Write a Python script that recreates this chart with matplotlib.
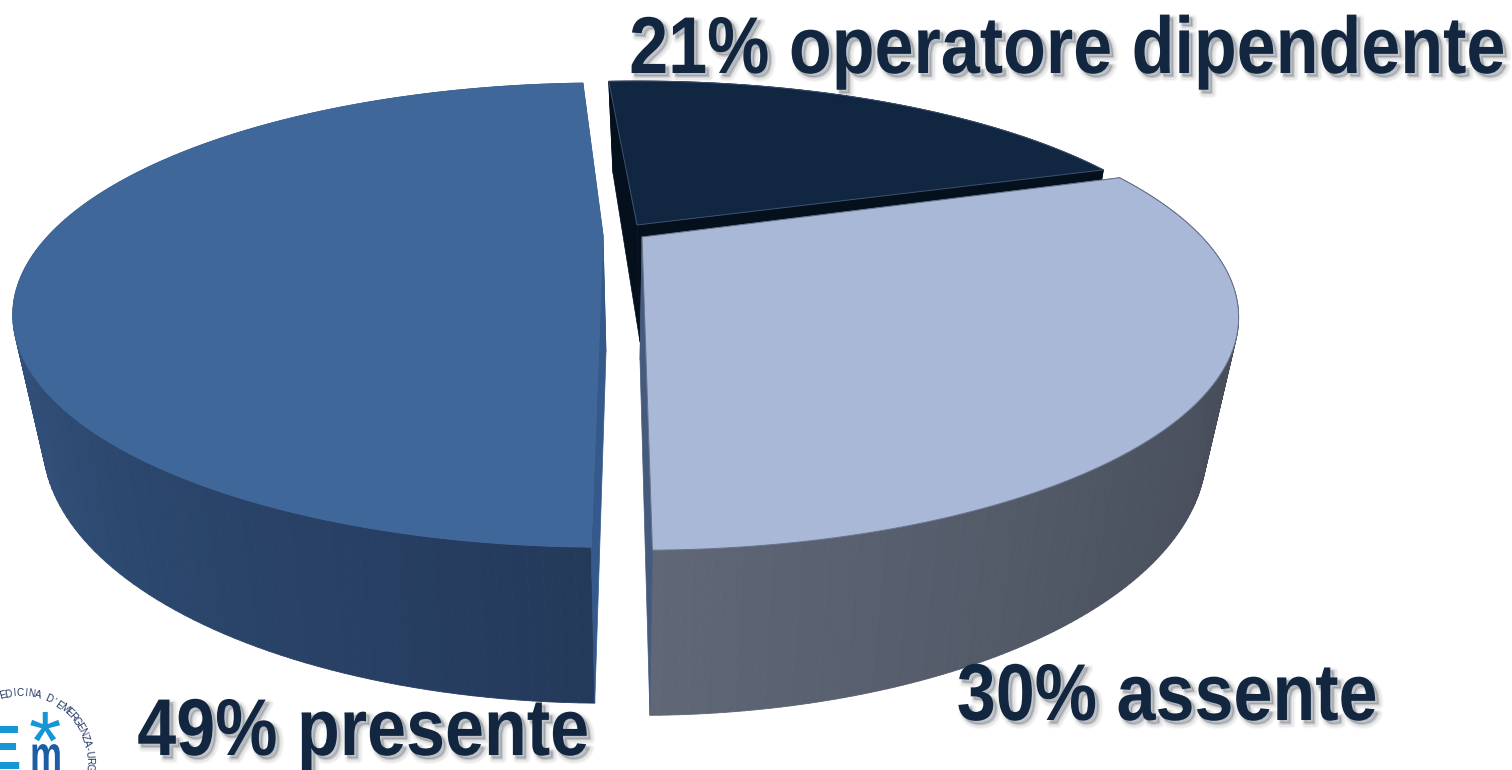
import numpy as np
import matplotlib
matplotlib.use("Agg")
import matplotlib.pyplot as plt
from matplotlib.patches import Polygon
from matplotlib.collections import PolyCollection
from matplotlib.transforms import Affine2D, Bbox
import matplotlib.patheffects as pe
from matplotlib.colors import to_rgb

# ---- data ----
categories = ["operatore dipendente", "assente", "presente"]
values = [21, 30, 49]
labels = ["21% operatore dipendente", "30% assente", "49% presente"]

# ---- styles / geometry ----
START = -4.0
NUDGE = [0.0, -0.3, 1.2]
K_T, K_L, B_L = 0.345, 0.343, -110.0
B_T = [-116.0, -123.4, -123.4]
RX_T = [545.0, 560.0, 554.0]
RX_L = [520.0, 532.0, 529.0]
# top apex x, top apex y, low apex x, low apex y
APEX = [(637, 225, 640, 342), (642, 237, 640, 360), (603, 235, 606, 352)]
TOP_C = ["#112641", "#a8b8d6", "#3f6799"]
SIDE_A = ["#0a1a30", "#454b57", "#243a5b"]
SIDE_B = ["#0a1a30", "#606878", "#3a5f8f"]
# angular range over which the side colour runs from A to B, and curve power
GRAD = [(0, 80, 1.0), (95, 179, 1.8), (181, 285, 1.0)]
FACE_C = ["#05101d", "#455a7c", "#34598a"]
EDGE_C = ["#3c5070", "#66728c", "#3f6799"]

TEXT_C = "#12263f"
TXT_POS = [(1067, 73, 58), (1167, 720, 58), (363, 755, 58)]
SQUEEZE = 0.87


def top(th, i):
    x, y = np.sin(th), np.cos(th)
    w = 1 + K_T * y
    return APEX[i][0] + RX_T[i] * x / w, (APEX[i][1] + B_T[i] * y) / w


def low(th, i):
    x, y = np.sin(th), np.cos(th)
    w = 1 + K_L * y
    return APEX[i][2] + RX_L[i] * x / w, (APEX[i][3] + B_L * y) / w


class Squeezed(pe.AbstractPathEffect):
    """Draws the glyphs narrower about a fixed display x, with optional soft shadow."""

    def __init__(self, x0, sx, shadow=True):
        super().__init__()
        self.x0, self.sx, self.shadow = x0, sx, shadow

    def draw_path(self, renderer, gc, tpath, affine, rgbFace=None):
        aff = affine + Affine2D().translate(-self.x0, 0).scale(self.sx, 1).translate(self.x0, 0)
        if self.shadow:
            for w, al, dx, dy in [(6, 0.035, 3, -3), (4, 0.05, 3, -3), (2, 0.07, 2.5, -2.5), (0.5, 0.10, 2, -2)]:
                pe.Stroke(linewidth=w, foreground="#000000", alpha=al, offset=(dx, dy)).draw_path(
                    renderer, gc, tpath, aff, rgbFace)
        renderer.draw_path(gc, tpath, aff, rgbFace)


def squeezed_text(x, y, s, size, sx, shadow=True, **kw):
    t = ax.text(x, y, s, ha="center", va="baseline", fontsize=size,
                path_effects=[Squeezed(x, sx, shadow)], **kw)
    orig = t.get_window_extent

    def extent(renderer=None, dpi=None):
        b = orig(renderer, dpi)
        return Bbox.from_extents(x + (b.x0 - x) * sx, b.y0, x + (b.x1 - x) * sx, b.y1)

    t.get_window_extent = extent
    return t


fig = plt.figure(figsize=(15.12, 7.70), dpi=100, facecolor="white")
ax = fig.add_axes([0, 0, 1, 1])
ax.set_xlim(0, 1512)
ax.set_ylim(770, 0)
ax.axis("off")

fr = np.array(values, dtype=float) / sum(values) * 360
ends = START + np.cumsum(fr)
starts = ends - fr
starts = starts + np.array(NUDGE)
ends = ends + np.array(NUDGE)


def draw_slice(i, z, reverse=False):
    a, b = np.radians(starts[i]), np.radians(ends[i])
    th = np.linspace(a, b, 161)
    tx, ty = top(th, i)
    lx, ly = low(th, i)
    quads, cols = [], []
    ca, cb = np.array(to_rgb(SIDE_A[i])), np.array(to_rgb(SIDE_B[i]))
    g0, g1, gp = GRAD[i]
    for j in range(len(th) - 1):
        quads.append([(tx[j], ty[j]), (tx[j + 1], ty[j + 1]),
                      (lx[j + 1], ly[j + 1]), (lx[j], ly[j])])
        t = np.clip((np.degrees(th[j]) - g0) / (g1 - g0), 0, 1) ** gp
        cols.append(ca + (cb - ca) * t)
    if reverse:
        quads, cols = quads[::-1], cols[::-1]
    ax.add_collection(PolyCollection(quads, facecolors=cols, edgecolors=cols,
                                     linewidths=0.6, zorder=z))
    for e in (0, -1):
        ax.add_patch(Polygon([(APEX[i][0], APEX[i][1]), (tx[e], ty[e]),
                              (lx[e], ly[e]), (APEX[i][2], APEX[i][3])],
                             closed=True, fc=FACE_C[i], ec=FACE_C[i], lw=0.5, zorder=z + 0.1))
    pts = [(APEX[i][0], APEX[i][1])] + list(zip(tx, ty))
    ax.add_patch(Polygon(pts, closed=True, fc=TOP_C[i], ec=EDGE_C[i], lw=0.7, zorder=z + 0.2))


draw_slice(2, 2, reverse=True)
draw_slice(0, 3)
draw_slice(1, 4)

# ---- labels ----
for lab, (x, y, s) in zip(labels, TXT_POS):
    squeezed_text(x, y, lab, s, SQUEEZE, fontweight="bold", family="Liberation Sans",
                  color=TEXT_C, zorder=10)

# ---- logo ----
LOGO_TXT = "EDICINA D'EMERGENZA-URG"
cx, cy, r = 20, 762, 69
step = 4.95
for n, ch in enumerate(LOGO_TXT):
    ang = -15 + n * step
    rad = np.radians(ang)
    ax.text(cx + r * np.sin(rad), cy - r * np.cos(rad), ch, fontsize=7.2, color="#1f3565",
            rotation=-ang, rotation_mode="anchor", ha="center", va="center",
            family="Liberation Sans", zorder=6)
ax.text(-20, 769, "E", fontsize=45, color="#1597d6", family="Liberation Sans",
        fontweight="bold", ha="left", va="baseline", zorder=6)
squeezed_text(46, 771, "m", 36, 0.72, shadow=False, color="#1d5da6", family="Liberation Sans",
              fontweight="bold", zorder=6)
ax.text(45, 770, "*", fontsize=60, color="#1597d6", family="Liberation Sans", ha="center",
        va="baseline", zorder=6)

fig.savefig("out.png", dpi=100, facecolor="white")
